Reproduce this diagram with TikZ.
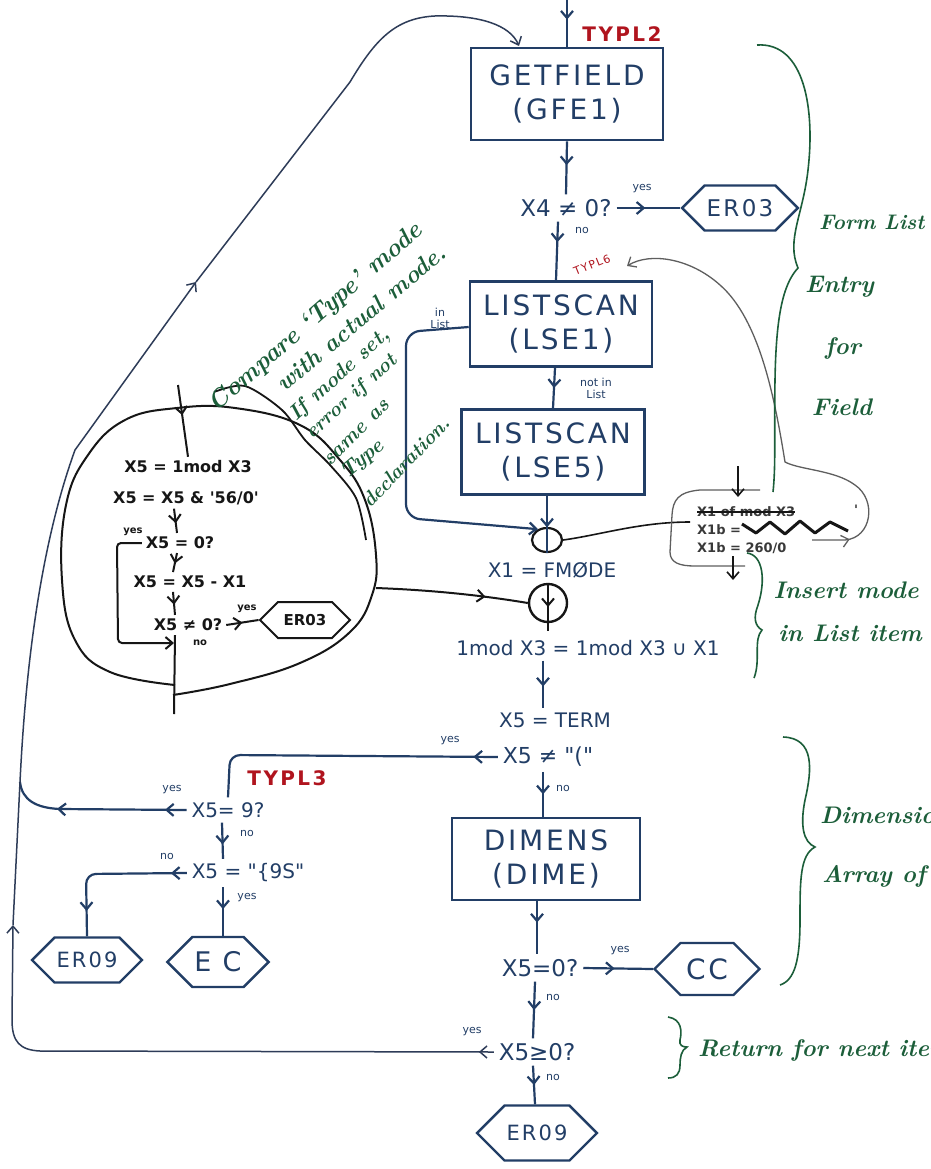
\documentclass[tikz,border=0pt]{standalone}
\usepackage{fontspec}
\usetikzlibrary{arrows.meta,shapes.symbols,shapes.geometric,decorations.markings}
\newfontfamily\hand{DejaVu Sans}
\newfontfamily\boxfont[LetterSpace=10.0]{DejaVu Sans}
\newfontfamily\tagfont[LetterSpace=12.0]{DejaVu Sans}
\definecolor{ink}{HTML}{223E66}
\definecolor{subink}{HTML}{161616}
\definecolor{loopink}{HTML}{2E3C58}
\definecolor{pencil}{HTML}{5E5E5E}
\definecolor{tagred}{HTML}{B0141E}
\definecolor{notegreen}{HTML}{1C5E3A}
\begin{document}
\begin{tikzpicture}[x=1pt,y=-1pt,
  >={Straight Barb[length=7pt,width=12pt]},
  procbox/.style={draw=ink,line width=2.6pt,align=center,text=ink,inner sep=2pt,
    font=\boxfont\fontsize{28}{34}\selectfont},
  hexa/.style={draw=ink,line width=2.4pt,shape=signal,signal to=west and east,
    text=ink,inner sep=2pt,font=\boxfont\fontsize{23}{27}\selectfont},
  cond/.style={text=ink,inner sep=1pt,outer sep=4pt,font=\hand\fontsize{23}{27}\selectfont},
  lbl/.style={text=ink,inner sep=0pt,align=center,font=\hand\fontsize{11}{12}\selectfont},
  flow/.style={draw=ink,line width=2.2pt},
  arrat/.style={postaction={decorate,decoration={markings,mark=at position #1 with {\arrow{>}}}}},
  tag/.style={text=tagred,inner sep=0pt,font=\tagfont\bfseries\fontsize{20}{24}\selectfont},
  note/.style={text=notegreen,inner sep=0pt,font=\bfseries\itshape\fontsize{24}{28}\selectfont},
  brace/.style={draw=notegreen,line width=1.6pt},
  sub/.style={text=subink,inner sep=1pt,outer sep=3pt,font=\hand\bfseries\fontsize{16}{19}\selectfont},
  sublbl/.style={text=subink,inner sep=0pt,font=\hand\bfseries\fontsize{10}{12}\selectfont},
  subflow/.style={draw=subink,line width=2pt},
  grayline/.style={draw=pencil,line width=1.3pt},
  loopline/.style={draw=loopink,line width=1.5pt},
  scratch/.style={text=subink!85,inner sep=0pt,font=\hand\bfseries\fontsize{13}{15}\selectfont},
]
\useasboundingbox (0,0) rectangle (930,1169);
\fill[white] (0,0) rectangle (930,1169);
\clip (0,0) rectangle (930,1169);

% ---------- main column ----------
\coordinate (topin) at (567,0);
\node[procbox,minimum width=192pt,minimum height=92pt] (getf) at (567,94) {GETFIELD\\(GFE1)};
\node[tag] (t2) at (622,34) {TYPL2};
\node[cond] (d1) at (566,208) {X4 ≠ 0?};
\node[hexa,minimum width=110pt,minimum height=45pt] (er03a) at (740,208) {ER03};
\node[lbl] (y1) at (642,189) {yes};
\node[lbl] (n1) at (582,230) {no};
\node[tag,rotate=22,font=\tagfont\fontsize{11}{13}\selectfont] (t6) at (592,265) {TYPL6};
\node[procbox,minimum width=182pt,minimum height=85pt] (lse1) at (561,324) {LISTSCAN\\(LSE1)};
\node[lbl] (inl) at (440,318) {in\\List};
\node[lbl] (nil) at (596,388) {not in\\List};
\node[procbox,minimum width=183pt,minimum height=85pt] (lse5) at (553,452) {LISTSCAN\\(LSE5)};
\node[draw=subink,line width=2.2pt,ellipse,minimum width=30pt,minimum height=24pt,inner sep=0pt] (c1) at (547,540) {};
\node[cond,font=\hand\fontsize{20}{24}\selectfont] (fm) at (552,570) {X1 = FMØDE};
\node[draw=subink,line width=2.4pt,circle,minimum size=38pt,inner sep=0pt] (c2) at (548,603) {};
\node[cond,font=\hand\fontsize{20}{24}\selectfont] (umod) at (588,648) {1mod X3 = 1mod X3 ∪ X1};
\node[cond,font=\hand\fontsize{20}{24}\selectfont] (term) at (555,720) {X5 = TERM};
\node[cond,font=\hand\fontsize{22}{26}\selectfont] (d3) at (548,757) {X5 ≠ "("};
\node[lbl] (y3) at (450,741) {yes};
\node[lbl] (n3) at (563,788) {no};
\node[procbox,minimum width=188pt,minimum height=82pt] (dime) at (546,859) {DIMENS\\(DIME)};
\node[cond] (d4) at (540,968) {X5=0?};
\node[hexa,minimum width=105pt,minimum height=52pt,font=\boxfont\fontsize{28}{32}\selectfont] (cc) at (707,969) {CC};
\node[lbl] (y4) at (620,951) {yes};
\node[lbl] (n4) at (553,997) {no};
\node[cond] (d5) at (537,1052) {X5≥0?};
\node[lbl] (y5) at (472,1032) {yes};
\node[lbl] (n5) at (553,1077) {no};
\node[hexa,minimum width=113pt,minimum height=55pt,font=\boxfont\fontsize{21}{25}\selectfont] (er09b) at (537,1133) {ER09};

% ---------- left branch ----------
\node[tag] (t3) at (287,778) {TYPL3};
\node[cond,font=\hand\fontsize{20}{24}\selectfont] (d6) at (228,810) {X5= 9?};
\node[lbl] (y6) at (172,790) {yes};
\node[lbl] (n6) at (247,833) {no};
\node[cond,font=\hand\fontsize{20}{24}\selectfont] (d7) at (248,873) {X5 = "\{9S"};
\node[lbl] (n7) at (167,856) {no};
\node[lbl] (y7) at (247,898) {yes};
\node[hexa,minimum width=103pt,minimum height=45pt,font=\boxfont\fontsize{21}{25}\selectfont] (er09a) at (87,960) {ER09};
\node[hexa,minimum width=100pt,minimum height=50pt,font=\boxfont\fontsize{27}{31}\selectfont] (ec) at (218,962) {E C};

% ---------- main connectors ----------
\draw[flow,arrat=0.42] (topin) -- (getf.north);
\draw[flow,arrat=0.45] (getf.south) -- (d1.north);
\draw[flow,arrat=0.45] (d1.east) -- (er03a.west);
\draw[flow,arrat=0.35] ([xshift=-8pt]d1.south) -- ([xshift=-5pt]lse1.north);
\draw[flow,arrat=0.5] ([xshift=-6pt]lse1.south) -- (lse5.north);
\draw[flow,arrat=0.55] ([xshift=-6pt]lse5.south) -- (c1.south);
\draw[flow,rounded corners=14pt,->] ([yshift=-3pt]lse1.west) -- (406,332) -- (406,518) -- (c1.130);
\draw[subflow,arrat=0.5] (c2.north) -- ([yshift=-8pt]c2.south);
\draw[flow,arrat=0.55] ([xshift=-45pt]umod.south) -- ([xshift=-12pt]term.north);
\draw[flow,arrat=0.5] ([xshift=-5pt]d3.south) -- ([xshift=-3pt]dime.north);
\draw[flow,arrat=0.4] ([xshift=-9pt]dime.south) -- ([xshift=-3pt]d4.north);
\draw[flow,arrat=0.45] (d4.east) -- (cc.west);
\draw[flow,arrat=0.5] ([xshift=-5pt]d4.south) -- ([xshift=-4pt]d5.north);
\draw[flow,arrat=0.5] ([xshift=-4pt]d5.south) -- ([xshift=-2pt]er09b.north);

% ---------- left branch connectors ----------
\coordinate (lj) at (20,782);
\draw[flow,rounded corners=10pt,arrat=0.08] (d3.west) -- (230,755) -- (d6.north);
\draw[flow,arrat=0.12,arrat=0.72] (d6.west) -- (60,809) .. controls (36,808) and (22,800) .. (lj);
\draw[flow,arrat=0.6] ([xshift=-6pt]d6.south) -- ([xshift=-25pt]d7.north);
\draw[flow,rounded corners=10pt,arrat=0.1,arrat=0.84] (d7.west) -- (86,874) -- (er09a.north);
\draw[flow,arrat=0.45] ([xshift=-25pt]d7.south) -- ([xshift=5pt]ec.north);

% ---------- return loop ----------
\coordinate (la) at (13,925);
\coordinate (lb) at (196,282);
\coordinate (lc) at (519,46);
\draw[loopline,arrat=0.025,->] (d5.west) -- (40,1051) .. controls (20,1050) and (12,1042) .. (12,1020) -- (la);
\draw[loopline,->] (la) -- (lj) .. controls (24,700) and (35,560) .. (75,450) -- (lb);
\draw[loopline,->] (lb) -- (350,82) .. controls (375,40) and (395,18) .. (435,16) .. controls (480,15) and (510,25) .. (lc);

% ---------- sub-flow inside the outline ----------
\coordinate (sin) at (178,385);
\coordinate (sj) at (174,643);
\coordinate (sout) at (174,714);
\coordinate (bo) at (376,588);
\node[sub] (i1) at (188,467) {X5 = 1mod X3};
\node[sub] (i2) at (186,498) {X5 = X5 \& '56/0'};
\node[sub] (i3) at (180,543) {X5 = 0?};
\node[sub] (i4) at (190,582) {X5 = X5 - X1};
\node[sub] (i5) at (188,625) {X5 ≠ 0?};
\node[hexa,draw=subink,text=subink,line width=2pt,minimum width=90pt,minimum height=36pt,
  font=\hand\bfseries\fontsize{15}{18}\selectfont] (ier) at (305,620) {ER03};
\node[sublbl] (sy1) at (133,532) {yes};
\node[sublbl] (sy2) at (247,609) {yes};
\node[sublbl] (sn1) at (200,643) {no};
\draw[subflow,arrat=0.42] (sin) -- (i1.north);
\draw[subflow,arrat=0.6] ([xshift=-12pt]i2.south) -- ([xshift=-3pt]i3.north);
\draw[subflow,rounded corners=4pt,->] (i3.west) -- (117,543) -- (118,643) -- (sj);
\draw[subflow,arrat=0.55] ([xshift=-3pt]i3.south) -- ([xshift=-17pt]i4.north);
\draw[subflow,arrat=0.55] ([xshift=-17pt]i4.south) -- ([xshift=-13pt]i5.north);
\draw[subflow,arrat=0.5] (i5.east) -- (ier.west);
\draw[subflow] ([xshift=-13pt]i5.south) -- (sout);
% hand-drawn outline round the sub-flow, in two strokes
\draw[subink,line width=2pt] plot[smooth,tension=0.7] coordinates {(173,695) (230,684) (300,663) (350,632) (372,595) (376,555) (365,500) (340,460) (300,425) (235,408) (177,408) (125,420) (88,455) (66,505) (62,580) (75,640) (110,672) (175,685)};
\draw[subink,line width=1.8pt] plot[smooth] coordinates {(214,392) (245,386) (282,410) (305,440) (330,465) (356,498) (366,540)};
\draw[subflow,arrat=0.72] (bo) .. controls (430,590) and (480,595) .. (c2.west);

% ---------- mode insertion detail ----------
\coordinate (bl) at (690,522);
\coordinate (ga) at (738,466);
\coordinate (gb) at (738,497);
\coordinate (gc) at (733,556);
\coordinate (gd) at (733,580);
\coordinate (t6tip) at (627,266);
\draw[subink,line width=1.6pt] (c1.east) .. controls (600,535) and (640,522) .. (bl);
\draw[grayline] (760,490) -- (700,490) .. controls (678,492) and (673,500) .. (672,515) -- (670,552) .. controls (670,563) and (680,566) .. (695,566) -- (745,566);
\draw[grayline,arrat=0.08,->] (812,540) -- (845,540) .. controls (872,538) and (877,500) .. (855,485) .. controls (835,470) and (800,470) .. (785,462) .. controls (775,400) and (760,320) .. (720,285) .. controls (690,258) and (650,252) .. (t6tip);
\draw[subink,line width=1.6pt,->] (ga) -- (gb);
\draw[subink,line width=1.6pt,->] (gc) -- (gd);
\node[scratch,anchor=west] (x1a) at (697,512) {X1 of mod X3};
\draw[subink,line width=2.4pt] (x1a.west) -- (x1a.east);
\node[scratch,anchor=west] (x1b) at (697,530) {X1b =};
\draw[subink,line width=3pt,line join=round] (742,524) -- (756,533) -- (770,522) -- (785,534) -- (800,521) -- (815,533) -- (830,522) -- (848,531);
\node[scratch,anchor=west] (x1c) at (697,548) {X1b = 260/0};
\node[scratch] (x1q) at (856,510) {'};

% ---------- margin notes ----------
\draw[brace] (757,45) .. controls (805,42) and (815,110) .. (808,170) .. controls (803,215) and (786,240) .. (798,268)
  .. controls (782,285) and (776,320) .. (775,380) .. controls (774,430) and (776,465) .. (773,492);
\node[note,anchor=west,font=\bfseries\itshape\fontsize{21}{26}\selectfont] (fl) at (819,222) {Form List};
\node[note,anchor=west] (en) at (805,287) {Entry};
\node[note] (fo) at (843,348) {for};
\node[note] (fi) at (842,407) {Field};

\draw[brace] (747,553) .. controls (763,555) and (766,580) .. (758,605) .. controls (753,618) and (755,626) .. (762,630)
  .. controls (753,640) and (761,660) .. (754,678);
\node[note] (im) at (846,590) {Insert mode};
\node[note] (il) at (850,633) {in List item};

\draw[brace] (783,737) .. controls (815,738) and (812,770) .. (805,800) .. controls (800,825) and (803,842) .. (815,847)
  .. controls (800,855) and (800,880) .. (800,920) .. controls (800,960) and (795,980) .. (780,985);
\node[note,anchor=west] (dm) at (820,815) {Dimensions};
\node[note,anchor=west] (ar) at (822,876) {Array of};

\draw[brace] (668,1017) .. controls (682,1019) and (682,1032) .. (680,1040) .. controls (679,1045) and (682,1047) .. (687,1047)
  .. controls (681,1050) and (680,1058) .. (680,1065) .. controls (680,1074) and (676,1078) .. (668,1078);
\node[note,anchor=west] (rn) at (698,1050) {Return for next item};

\node[note,rotate=41,font=\bfseries\itshape\fontsize{25}{28}\selectfont] (cm1) at (316,318) {Compare `Type' mode};
\node[note,rotate=40,font=\bfseries\itshape\fontsize{24}{28}\selectfont] (cm2) at (361,318) {with actual mode.};
\node[note,rotate=42,font=\bfseries\itshape\fontsize{21}{26}\selectfont] (cm3) at (340,375) {If mode set,};
\node[note,rotate=42,font=\bfseries\itshape\fontsize{20}{26}\selectfont] (cm4) at (352,397) {error if not};
\node[note,rotate=45,font=\bfseries\itshape\fontsize{21}{26}\selectfont] (cm5) at (357,433) {same as};
\node[note,rotate=40,font=\bfseries\itshape\fontsize{21}{26}\selectfont] (cm6) at (363,460) {Type};
\node[note,rotate=46,font=\bfseries\itshape\fontsize{20}{26}\selectfont] (cm7) at (406,462) {declaration.};
\end{tikzpicture}
\end{document}
